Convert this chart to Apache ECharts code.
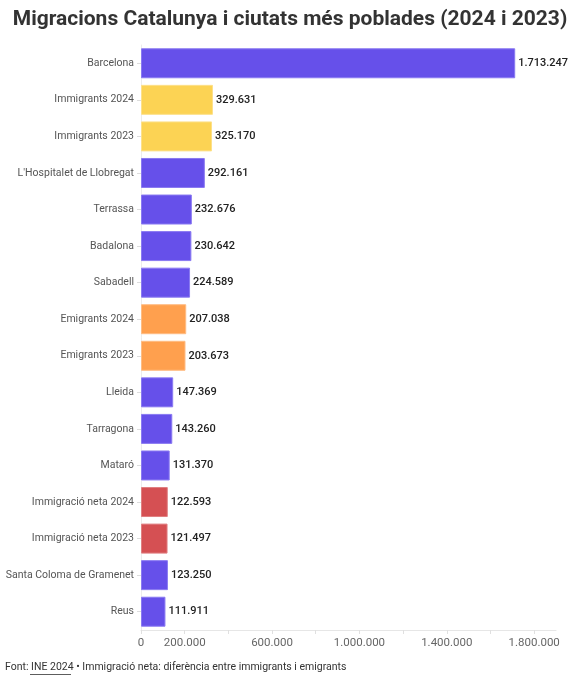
<!DOCTYPE html>
<html>
<head>
<meta charset="utf-8">
<script src="https://cdn.jsdelivr.net/npm/echarts@6/dist/echarts.min.js"></script>
<style>
  html, body { margin: 0; padding: 0; background: #fff; }
  #chart { width: 580px; height: 680px; }
</style>
</head>
<body>
<div id="chart"></div>
<script>
// categories top to bottom
const categories = [
    'Barcelona', 'Immigrants 2024', 'Immigrants 2023', "L'Hospitalet de Llobregat",
    'Terrassa', 'Badalona', 'Sabadell', 'Emigrants 2024', 'Emigrants 2023',
    'Lleida', 'Tarragona', 'Mataró', 'Immigració neta 2024', 'Immigració neta 2023',
    'Santa Coloma de Gramenet', 'Reus'
]
const values = [
    1713247, 329631, 325170, 292161, 232676, 230642, 224589, 207038, 203673,
    147369, 143260, 131370, 122593, 121497, 123250, 111911
]
// group of each bar: city / imm / emi / net
const groups = [
    'city', 'imm', 'imm', 'city', 'city', 'city', 'city', 'emi', 'emi',
    'city', 'city', 'city', 'net', 'net', 'city', 'city'
]
const tickValues = [0, 200000, 400000, 600000, 800000, 1000000, 1200000, 1400000, 1600000, 1800000]
const labelValues = [0, 200000, 600000, 1000000, 1400000, 1800000]

const colors = { city: '#6650EA', imm: '#FCD354', emi: '#FFA04E', net: '#D55053' }
const borders = { city: '#8A7AF2', imm: '#FDE08A', emi: '#FFBC82', net: '#E07F81' }

const fmt = v => String(v).replace(/\B(?=(\d{3})+(?!\d))/g, '.')

let data = values.map((v, i) => ({
    value: v,
    itemStyle: { color: colors[groups[i]], borderColor: borders[groups[i]], borderWidth: 1 }
}))

let option = {
    animation: false,
    textStyle: { fontFamily: 'Roboto' },
    title: {
        text: 'Migracions Catalunya i ciutats més poblades (2024 i 2023)',
        left: 'center',
        top: 4,
        textStyle: { fontSize: 21, fontWeight: 'bold', color: '#333', fontFamily: 'Roboto' }
    },
    grid: { left: 141, right: 24, top: 45, bottom: 50, outerBoundsMode: 'none', containLabel: false },
    xAxis: {
        type: 'value',
        min: 0,
        max: 1900000,
        axisLine: { show: true, lineStyle: { color: '#e6e6e6' } },
        axisTick: { show: true, customValues: tickValues, length: 4, lineStyle: { color: '#e0e0e0' } },
        splitLine: { show: false },
        axisLabel: {
            customValues: labelValues,
            color: '#666', fontSize: 11.5, margin: 7,
            formatter: v => fmt(v)
        }
    },
    yAxis: {
        type: 'category',
        inverse: true,
        data: categories,
        axisLine: { show: true, lineStyle: { color: '#ececec' } },
        axisTick: { show: true, alignWithLabel: true, length: 4, lineStyle: { color: '#dddddd' } },
        axisLabel: { color: '#555', fontSize: 10.5, margin: 7 }
    },
    series: [{
        type: 'bar',
        data: data,
        barCategoryGap: '18%',
        label: {
            show: true,
            position: 'right',
            distance: 3,
            color: '#222',
            fontSize: 11,
            fontWeight: 500,
            formatter: p => fmt(p.value)
        }
    }],
    graphic: [{
        type: 'text',
        left: 5,
        top: 662,
        style: {
            text: 'Font: INE 2024 • Immigració neta: diferència entre immigrants i emigrants',
            fill: '#333',
            font: '10.5px Roboto'
        }
    }, {
        type: 'line',
        shape: { x1: 30, y1: 674.5, x2: 71, y2: 674.5 },
        style: { stroke: '#333', lineWidth: 0.8 }
    }]
}

let chart = echarts.init(document.getElementById('chart'))
chart.setOption(option)
</script>
</body>
</html>
